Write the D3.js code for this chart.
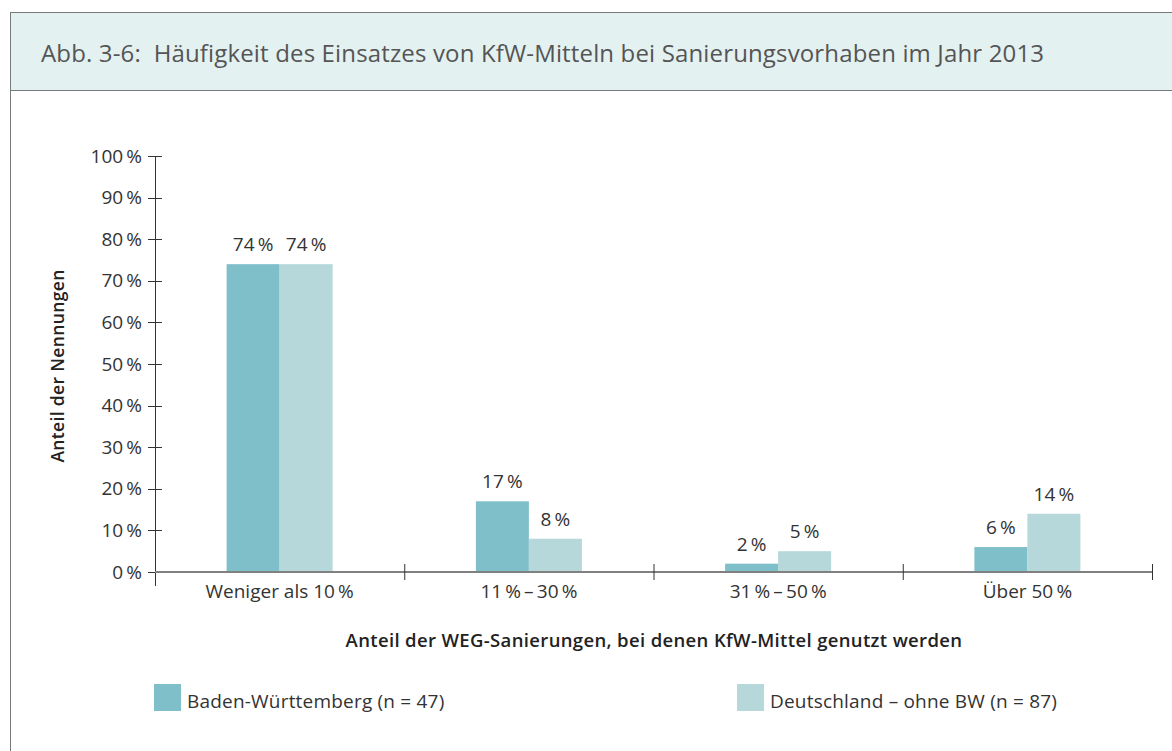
<!DOCTYPE html>
<html lang="de">
<head>
<meta charset="utf-8">
<title>Abb. 3-6</title>
<script src="https://d3js.org/d3.v7.min.js"></script>
<style>
  body { margin: 0; background: #fff; font-family: 'Open Sans', sans-serif; }
  svg { display: block; }
  text { fill: #333; }
  .title { font-size: 24px; letter-spacing: 0.15px; fill: #555; }
  .tick-label { font-size: 19px; }
  .cat-label { font-size: 19px; }
  .value { font-size: 19px; }
  .axis-title { font-size: 18.5px; letter-spacing: 0.35px; font-weight: 600; fill: #222; }
  .legend-label { font-size: 19px; letter-spacing: 0.2px; }
</style>
</head>
<body>
<svg width="1172" height="751"></svg>
<script>
// data
const categories = ['Weniger als 10\u2009%', '11\u2009%\u2009\u2013\u200930\u2009%', '31\u2009%\u2009\u2013\u200950\u2009%', '\u00DCber 50\u2009%'];
const seriesNames = ['Baden-W\u00FCrttemberg (n = 47)', 'Deutschland \u2013 ohne BW (n = 87)'];
const bwValues = [74, 17, 2, 6];
const deValues = [74, 8, 5, 14];
const yTicks = [0, 10, 20, 30, 40, 50, 60, 70, 80, 90, 100];
const colors = ['#7fbfca', '#b6d8db'];

const svg = d3.select('svg');

// frame + header
svg.append('rect')
  .attr('x', 10.5).attr('y', 12.5)
  .attr('width', 1200).attr('height', 800)
  .attr('fill', 'none').attr('stroke', '#7a7a7a');
svg.append('rect')
  .attr('x', 10.5).attr('y', 12.5)
  .attr('width', 1200).attr('height', 78)
  .attr('fill', '#e4f1f1').attr('stroke', '#7a7a7a');
svg.append('text')
  .attr('class', 'title')
  .attr('x', 41).attr('y', 62)
  .text('Abb. 3-6:\u00A0 H\u00E4ufigkeit des Einsatzes von KfW-Mitteln bei Sanierungsvorhaben im Jahr 2013');

// scales
const x0 = d3.scaleBand()
  .domain(categories)
  .range([155, 1152]);

const x1 = d3.scaleBand()
  .domain(seriesNames)
  .range([0, 106]);

const y = d3.scaleLinear()
  .domain([0, 100])
  .range([572, 156]);

const rows = categories.map((c, i) => ({ cat: c, vals: [bwValues[i], deValues[i]] }));

// y axis
const yAxis = svg.append('g');
yAxis.append('line')
  .attr('x1', 155.5).attr('x2', 155.5)
  .attr('y1', y(100)).attr('y2', 586)
  .attr('stroke', '#333').attr('stroke-width', 1);
yAxis.selectAll('line.tk')
  .data(yTicks).enter().append('line')
  .attr('class', 'tk')
  .attr('x1', 148).attr('x2', 162)
  .attr('y1', d => Math.round(y(d)) + 0.5)
  .attr('y2', d => Math.round(y(d)) + 0.5)
  .attr('stroke', '#333');
yAxis.selectAll('text')
  .data(yTicks).enter().append('text')
  .attr('class', 'tick-label')
  .attr('x', 142)
  .attr('y', d => y(d))
  .attr('dy', '0.35em')
  .attr('text-anchor', 'end')
  .text(d => d + '\u2009%');

// bars
const groups = svg.selectAll('g.grp')
  .data(rows).enter().append('g')
  .attr('class', 'grp')
  .attr('transform', d => `translate(${x0(d.cat) + x0.bandwidth() / 2 - 53}, 0)`);

groups.selectAll('rect')
  .data(d => d.vals.map((v, j) => ({ name: seriesNames[j], v: v, j: j })))
  .enter().append('rect')
  .attr('x', d => x1(d.name))
  .attr('y', d => y(d.v))
  .attr('width', x1.bandwidth())
  .attr('height', d => y(0) - y(d.v))
  .attr('fill', d => colors[d.j]);

groups.selectAll('text')
  .data(d => d.vals.map((v, j) => ({ name: seriesNames[j], v: v })))
  .enter().append('text')
  .attr('class', 'value')
  .attr('x', d => x1(d.name) + x1.bandwidth() / 2)
  .attr('y', d => y(d.v) - 13)
  .attr('text-anchor', 'middle')
  .text(d => d.v + '\u2009%');

// x axis
const xAxis = svg.append('g');
xAxis.append('line')
  .attr('x1', 155).attr('x2', 1153)
  .attr('y1', 572).attr('y2', 572)
  .attr('stroke', '#808080').attr('stroke-width', 2);
xAxis.selectAll('line.tk')
  .data(categories).enter().append('line')
  .attr('class', 'tk')
  .attr('x1', d => x0(d) + x0.bandwidth() + 0.5)
  .attr('x2', d => x0(d) + x0.bandwidth() + 0.5)
  .attr('y1', 564).attr('y2', 580)
  .attr('stroke', '#333');
xAxis.selectAll('text')
  .data(categories).enter().append('text')
  .attr('class', 'cat-label')
  .attr('x', d => x0(d) + x0.bandwidth() / 2)
  .attr('y', 598)
  .attr('text-anchor', 'middle')
  .text(d => d);

// axis titles
svg.append('text')
  .attr('class', 'axis-title')
  .style('font-size', '17.5px')
  .attr('transform', 'translate(64, 366) rotate(-90)')
  .attr('text-anchor', 'middle')
  .text('Anteil der Nennungen');
svg.append('text')
  .attr('class', 'axis-title')
  .attr('x', 654).attr('y', 647)
  .attr('text-anchor', 'middle')
  .text('Anteil der WEG-Sanierungen, bei denen KfW-Mittel genutzt werden');

// legend
const legendX = [154, 737];
const legend = svg.selectAll('g.leg')
  .data(seriesNames).enter().append('g')
  .attr('class', 'leg')
  .attr('transform', (d, i) => `translate(${legendX[i]}, 684)`);
legend.append('rect')
  .attr('width', 27).attr('height', 27)
  .attr('fill', (d, i) => colors[i]);
legend.append('text')
  .attr('class', 'legend-label')
  .attr('x', 33).attr('y', 24)
  .text(d => d);
</script>
</body>
</html>
